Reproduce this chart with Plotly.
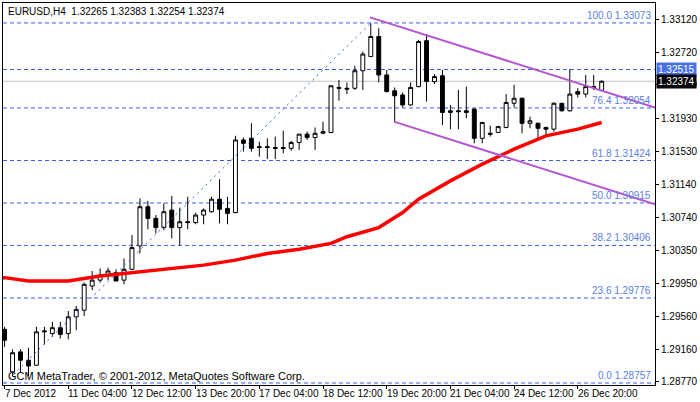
import plotly.graph_objects as go

# H4 bars, index 0..75
opens = [1.2940, 1.2889, 1.2913, 1.2903, 1.2897, 1.2937, 1.2935, 1.2942, 1.2935, 1.2955,
         1.2963, 1.2992, 1.2999, 1.3005, 1.3008, 1.2999, 1.3012, 1.3040, 1.3087, 1.3073,
         1.3062, 1.3083, 1.3062, 1.3069, 1.3068, 1.3077, 1.3081, 1.3096, 1.3085, 1.3080,
         1.3167, 1.3169, 1.3159, 1.3159, 1.3158, 1.3158, 1.3157, 1.3164, 1.3174, 1.3170,
         1.3175, 1.3176, 1.3230, 1.3229, 1.3229, 1.3250, 1.3267, 1.3291, 1.3245, 1.3226,
         1.3221, 1.3209, 1.3231, 1.3286, 1.3237, 1.3244, 1.3200, 1.3202, 1.3202, 1.3204,
         1.3169, 1.3175, 1.3176, 1.3182, 1.3211, 1.3217, 1.3187, 1.3187, 1.3182, 1.3180,
         1.3211, 1.3202, 1.3225, 1.3222, 1.3231, 1.32265]
highs = [1.2943, 1.2916, 1.2916, 1.2918, 1.2943, 1.2943, 1.2949, 1.2949, 1.2962, 1.2968,
         1.2996, 1.3010, 1.3013, 1.3014, 1.3012, 1.3025, 1.3053, 1.3097, 1.3094, 1.3077,
         1.3091, 1.3100, 1.3086, 1.3099, 1.3080, 1.3085, 1.3099, 1.3120, 1.3099, 1.3172,
         1.3170, 1.3187, 1.3165, 1.3169, 1.3171, 1.3178, 1.3166, 1.3174, 1.3177, 1.3182,
         1.3189, 1.3232, 1.3239, 1.3236, 1.3256, 1.3273, 1.3307, 1.3301, 1.3251, 1.3230,
         1.3224, 1.3236, 1.3287, 1.3294, 1.3246, 1.3251, 1.3209, 1.3227, 1.3231, 1.3205,
         1.3189, 1.3184, 1.3184, 1.3222, 1.3233, 1.3218, 1.3195, 1.3188, 1.3183, 1.3212,
         1.3211, 1.3252, 1.3229, 1.3245, 1.3245, 1.32383]
lows = [1.2919, 1.2884, 1.2889, 1.2884, 1.2896, 1.2922, 1.2931, 1.2929, 1.2928, 1.2939,
        1.2956, 1.2987, 1.2996, 1.2999, 1.2998, 1.2994, 1.3011, 1.3031, 1.3060, 1.3055,
        1.3059, 1.3049, 1.3041, 1.3060, 1.3066, 1.3066, 1.3080, 1.3067, 1.3066, 1.3079,
        1.3153, 1.3153, 1.3147, 1.3144, 1.3144, 1.3151, 1.3154, 1.3155, 1.3167, 1.3155,
        1.3174, 1.3175, 1.3214, 1.3222, 1.3227, 1.3227, 1.3267, 1.3236, 1.3224, 1.3189,
        1.3206, 1.3208, 1.3230, 1.3213, 1.3234, 1.3185, 1.3180, 1.3180, 1.3193, 1.3163,
        1.3163, 1.3171, 1.3176, 1.3181, 1.3206, 1.3175, 1.3181, 1.3170, 1.3172, 1.3177,
        1.3201, 1.3201, 1.3218, 1.3218, 1.3227, 1.32254]
closes = [1.2927, 1.2912, 1.2903, 1.2896, 1.2937, 1.2938, 1.2942, 1.2934, 1.2955, 1.2964,
          1.2994, 1.2999, 1.3005, 1.3010, 1.2998, 1.3012, 1.3038, 1.3087, 1.3073, 1.3062,
          1.3081, 1.3062, 1.3069, 1.3068, 1.3077, 1.3083, 1.3096, 1.3084, 1.3079, 1.3167,
          1.3163, 1.3157, 1.3158, 1.3158, 1.3157, 1.3157, 1.3164, 1.3174, 1.3170, 1.3175,
          1.3177, 1.3232, 1.3229, 1.3228, 1.3250, 1.3270, 1.3291, 1.3245, 1.3225, 1.3220,
          1.3209, 1.3230, 1.3285, 1.3237, 1.3243, 1.3200, 1.3202, 1.3201, 1.3200, 1.3169,
          1.3188, 1.3174, 1.3183, 1.3212, 1.3217, 1.3187, 1.3190, 1.3181, 1.3180, 1.3211,
          1.3202, 1.3222, 1.3222, 1.3231, 1.3230, 1.32374]

# moving average (read at selected bars)
ma_idx = [-0.2, 0, 3, 8, 12, 16, 20, 25, 29, 33, 37, 41, 43, 47, 50, 52, 56, 60, 64, 68, 72, 75]
ma_val = [1.3002, 1.3002, 1.2998, 1.2998, 1.3004, 1.3008, 1.3013, 1.3017, 1.3023, 1.3031,
          1.3036, 1.3043, 1.3051, 1.3062, 1.3080, 1.3096, 1.3118, 1.3138, 1.3156, 1.3172,
          1.3180, 1.3188]

fib_pct = ["100.0", "76.4", "61.8", "50.0", "38.2", "23.6", "0.0"]
fib_lvl = [1.33073, 1.32054, 1.31424, 1.30915, 1.30406, 1.29776, 1.28757]
fib_trend_idx = [0, 46]
fib_trend_val = [1.28757, 1.33073]

chan_up_idx = [45.9, 81.7]
chan_up_val = [1.3314, 1.3206]
chan_lo_idx = [48.9, 81.7]
chan_lo_val = [1.3189, 1.3090]

level_line = 1.32515
bid = 1.32374

ytick_vals = [1.33120, 1.32720, 1.32330, 1.31930, 1.31530, 1.31140, 1.30740,
              1.30350, 1.29950, 1.29560, 1.29160, 1.28770]
xtick_idx = [0, 8, 16, 24, 32, 40, 48, 56, 64, 72]
xtick_txt = ["7 Dec 2012", "11 Dec 04:00", "12 Dec 12:00", "13 Dec 20:00", "17 Dec 04:00",
             "18 Dec 12:00", "19 Dec 20:00", "21 Dec 04:00", "24 Dec 12:00", "26 Dec 20:00"]

FONT = "Liberation Sans"
BLUE = "#3a5fe6"

fig = go.Figure()

for lv in fib_lvl + [level_line]:
    fig.add_hline(y=lv, line=dict(color=BLUE, width=1, dash="4px,3px"), layer="below")
fig.add_hline(y=bid, line=dict(color="#c0c0c0", width=1), layer="below")

fig.add_trace(go.Scatter(x=fib_trend_idx, y=fib_trend_val, mode="lines",
                         line=dict(color=BLUE, width=1, dash="2px,4px"), hoverinfo="skip"))

fig.add_trace(go.Scatter(x=ma_idx, y=ma_val, mode="lines",
                         line=dict(color="#ff0000", width=3.5), hoverinfo="skip"))

for xs, ys in [(chan_up_idx, chan_up_val), (chan_lo_idx, chan_lo_val)]:
    fig.add_trace(go.Scatter(x=xs, y=ys, mode="lines",
                             line=dict(color="#b455d3", width=2), hoverinfo="skip"))

fig.add_trace(go.Candlestick(
    x=list(range(len(opens))), open=opens, high=highs, low=lows, close=closes,
    increasing=dict(line=dict(color="black", width=1), fillcolor="white"),
    decreasing=dict(line=dict(color="black", width=1), fillcolor="black"),
    whiskerwidth=0))

for pct, lv in zip(fib_pct, fib_lvl):
    fig.add_annotation(x=1, xref="paper", y=lv, yref="y", text=f"{pct} {lv:.5f}",
                       xanchor="right", yanchor="bottom", showarrow=False, xshift=-2,
                       font=dict(family=FONT, size=10, color="#5a80e8"))

for t, i in zip(xtick_txt, xtick_idx):
    fig.add_annotation(x=i, xref="x", y=0, yref="paper", text=t, xanchor="left",
                       yanchor="top", showarrow=False, xshift=-2, yshift=-1,
                       font=dict(family=FONT, size=10, color="black"))

fig.add_annotation(x=1, xref="paper", y=level_line, yref="y", text="1.32515",
                   xanchor="left", showarrow=False, bgcolor="#4a72e8", xshift=1,
                   font=dict(family=FONT, size=10, color="white"), borderpad=1)
fig.add_annotation(x=1, xref="paper", y=bid, yref="y", text="1.32374",
                   xanchor="left", showarrow=False, bgcolor="black", xshift=1,
                   font=dict(family=FONT, size=10, color="white"), borderpad=1)

fig.add_annotation(x=0, xref="paper", y=1, yref="paper", xanchor="left", yanchor="top",
                   text="EURUSD,H4  1.32265 1.32383 1.32254 1.32374", showarrow=False,
                   xshift=3, yshift=-1, font=dict(family=FONT, size=10, color="black"))
fig.add_annotation(x=0, xref="paper", y=0, yref="paper", xanchor="left", yanchor="bottom",
                   text="GCM MetaTrader, © 2001-2012, MetaQuotes Software Corp.",
                   showarrow=False, xshift=3, yshift=1,
                   font=dict(family=FONT, size=11, color="black"))

fig.update_layout(
    width=700, height=402, margin=dict(l=2, r=43, t=2, b=17),
    paper_bgcolor="white", plot_bgcolor="white", showlegend=False,
    xaxis=dict(range=[-0.2, 81.7], rangeslider_visible=False, showgrid=False,
               tickvals=xtick_idx, ticktext=[""] * len(xtick_idx), ticks="outside",
               ticklen=3, tickcolor="black", showline=True, linecolor="black",
               mirror=True, zeroline=False),
    yaxis=dict(range=[1.28733, 1.33312], side="right", showgrid=False,
               tickvals=ytick_vals, ticktext=[f"{v:.5f}" for v in ytick_vals],
               ticks="outside", ticklen=3, tickcolor="black", showline=True,
               linecolor="black", mirror=True, zeroline=False,
               tickfont=dict(family=FONT, size=10, color="black")),
)

fig.write_html("out.html", config={"displayModeBar": False},
               post_script="document.body.style.margin='0';")
